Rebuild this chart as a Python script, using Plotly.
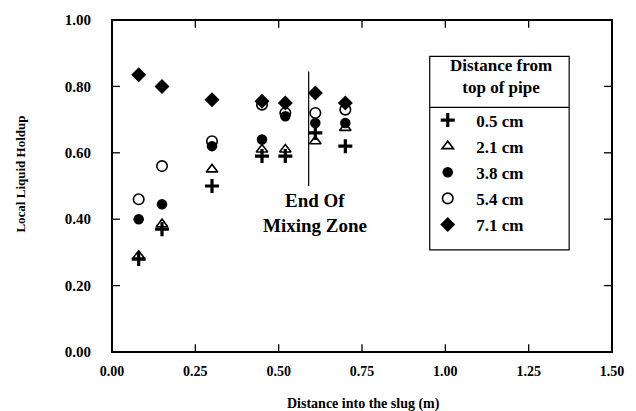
import plotly.graph_objects as go

x_pos = [0.08, 0.15, 0.30, 0.45, 0.52, 0.61, 0.70]
y_05 = [0.28, 0.37, 0.50, 0.59, 0.59, 0.66, 0.62]
y_21 = [0.29, 0.385, 0.55, 0.61, 0.61, 0.635, 0.675]
y_38 = [0.40, 0.445, 0.62, 0.64, 0.71, 0.69, 0.69]
y_54 = [0.46, 0.56, 0.635, 0.745, 0.72, 0.72, 0.73]
y_71 = [0.835, 0.80, 0.76, 0.755, 0.75, 0.78, 0.75]
labels = ["0.5 cm", "2.1 cm", "3.8 cm", "5.4 cm", "7.1 cm"]
mix_end_x = 0.59
mix_line_y = [0.50, 0.845]
x_ticks = [0.0, 0.25, 0.5, 0.75, 1.0, 1.25, 1.5]
y_ticks = [0.0, 0.2, 0.4, 0.6, 0.8, 1.0]

FONT = "Liberation Serif"
L, R, T, B = 112, 614, 14, 352
W, H = R - L, B - T
TICK = 8  # inside tick length in px


def px(v):
    return (v - L) / W


def py(v):
    return (B - v) / H


fig = go.Figure()

series = [
    (y_05, dict(symbol="cross-thin", size=10, line=dict(width=3.2, color="black"), color="black")),
    (y_21, dict(symbol="triangle-up-open", size=10, line=dict(width=1.6, color="black"), color="black")),
    (y_38, dict(symbol="circle", size=10.5, color="black", line=dict(width=0))),
    (y_54, dict(symbol="circle-open", size=10.5, line=dict(width=1.6, color="black"), color="black")),
    (y_71, dict(symbol="diamond", size=11.5, color="black", line=dict(width=0))),
]
for i, (ys, mk) in enumerate(series):
    fig.add_trace(go.Scatter(x=x_pos, y=ys, mode="markers", marker=mk,
                             name="\u00a0\u00a0<b>" + labels[i] + "</b>", legendgroup=str(i)))

fig.add_trace(go.Scatter(x=[mix_end_x, mix_end_x], y=mix_line_y, mode="lines",
                         line=dict(color="black", width=1.2), showlegend=False, hoverinfo="skip"))

bigfont = dict(family=FONT, size=19, color="black")
fig.add_annotation(x=0.61, y=0.455, text="<b>End Of</b>", showarrow=False, font=bigfont, xanchor="center")
fig.add_annotation(x=0.61, y=0.382, text="<b>Mixing Zone</b>", showarrow=False, font=bigfont, xanchor="center")

# axis titles
fig.add_annotation(xref="paper", yref="paper", x=px(365), y=py(405),
                   xanchor="center", yanchor="middle",
                   text="<b>Distance into the slug (m)</b>", showarrow=False,
                   font=dict(family=FONT, size=14, color="black"))
fig.add_annotation(xref="paper", yref="paper", x=px(20), y=py(171),
                   xanchor="center", yanchor="middle",
                   text="<b>Local Liquid Holdup</b>", showarrow=False, textangle=-90,
                   font=dict(family=FONT, size=13, color="black"))

# plot frame
fig.add_shape(type="rect", xref="paper", yref="paper", x0=0, x1=1, y0=0, y1=1,
              line=dict(color="black", width=2), fillcolor="rgba(0,0,0,0)")
# inside ticks on all four sides, placed through the axis scales
for v in x_ticks:
    fig.add_shape(type="line", xref="x", yref="paper", x0=v, x1=v, y0=0, y1=TICK / H,
                  line=dict(color="black", width=1.3))
    fig.add_shape(type="line", xref="x", yref="paper", x0=v, x1=v, y0=1 - TICK / H, y1=1,
                  line=dict(color="black", width=1.3))
for v in y_ticks:
    fig.add_shape(type="line", xref="paper", yref="y", x0=0, x1=TICK / W, y0=v, y1=v,
                  line=dict(color="black", width=1.3))
    fig.add_shape(type="line", xref="paper", yref="y", x0=1 - TICK / W, x1=1, y0=v, y1=v,
                  line=dict(color="black", width=1.3))

# legend box, divider and title
fig.add_shape(type="rect", xref="paper", yref="paper",
              x0=px(431), x1=px(571), y0=py(248), y1=py(51),
              line=dict(color="black", width=1.2), fillcolor="rgba(0,0,0,0)")
fig.add_shape(type="line", xref="paper", yref="paper",
              x0=px(431), x1=px(571), y0=py(103), y1=py(103),
              line=dict(color="black", width=1.2))
fig.add_annotation(xref="paper", yref="paper", x=px(503), y=py(72),
                   xanchor="center", yanchor="middle", showarrow=False,
                   text="<b>Distance from<br>top of pipe</b>",
                   font=dict(family=FONT, size=17, color="black"))

fig.update_layout(
    xaxis=dict(range=[0, 1.5], tickvals=x_ticks, ticktext=[f"<b>{v:.2f}</b>" for v in x_ticks],
               showgrid=False, zeroline=False, showline=False,
               ticks="outside", ticklen=6, tickcolor="rgba(0,0,0,0)",
               tickfont=dict(family=FONT, size=14, color="black")),
    yaxis=dict(range=[0, 1.0], tickvals=y_ticks, ticktext=[f"<b>{v:.2f}</b>" for v in y_ticks],
               showgrid=False, zeroline=False, showline=False,
               ticks="outside", ticklen=17, tickcolor="rgba(0,0,0,0)",
               tickfont=dict(family=FONT, size=15, color="black")),
    width=636, height=411,
    margin=dict(l=L, r=636 - R, t=T, b=411 - B),
    paper_bgcolor="white", plot_bgcolor="white",
    font=dict(family=FONT, color="black"),
    legend=dict(
        x=px(429), y=py(98), xanchor="left", yanchor="top",
        bgcolor="rgba(0,0,0,0)", borderwidth=0,
        font=dict(family=FONT, size=17, color="black"),
        tracegroupgap=1,
    ),
)

fig.write_html("out.html")
